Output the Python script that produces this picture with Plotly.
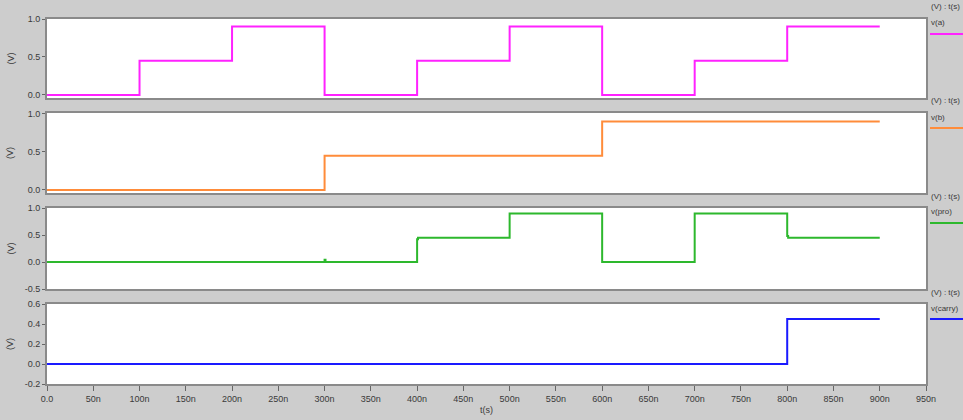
import plotly.graph_objects as go
from plotly.subplots import make_subplots

# Simulation waveforms (time in ns, voltage in V)
t_a = [0, 100, 200, 300, 400, 500, 600, 700, 800, 900]
v_a = [0, 0.45, 0.9, 0, 0.45, 0.9, 0, 0.45, 0.9, 0.9]

t_b = [0, 300, 600, 900]
v_b = [0, 0.45, 0.9, 0.9]

t_pro = [0, 300, 301, 400, 401, 500, 600, 700, 800, 801, 900]
v_pro = [0, 0.04, 0, 0.42, 0.45, 0.9, 0, 0.9, 0.48, 0.45, 0.45]

t_carry = [0, 800, 900]
v_carry = [0, 0.45, 0.45]

signal_names = ["v(a)", "v(b)", "v(pro)", "v(carry)"]
colors = ["#ff22ff", "#ff8c3a", "#2db82d", "#1a1aff"]
y_ranges = [[-0.04, 1.0], [-0.04, 1.013], [-0.5, 1.0], [-0.2, 0.6]]
y_ticks = [[0.0, 0.5, 1.0], [0.0, 0.5, 1.0], [-0.5, 0.0, 0.5, 1.0], [-0.2, 0.0, 0.2, 0.4, 0.6]]

x_tickvals = list(range(0, 951, 50))
x_ticktext = ["0.0"] + [f"{v}n" for v in x_tickvals[1:]]

W, H = 963, 420
ML, MR, MT, MB = 47, 37, 19, 36
PW, PH = W - ML - MR, H - MT - MB

# Panel extents in pixels (top, bottom)
panels_px = [(19, 98), (113, 193), (208, 289), (304, 384)]


def py(pix):
    return (H - MB - pix) / PH


def px(pix):
    return (pix - ML) / PW


fig = make_subplots(rows=4, cols=1, shared_xaxes=True)

series = [(t_a, v_a), (t_b, v_b), (t_pro, v_pro), (t_carry, v_carry)]
for i, (t, v) in enumerate(series):
    fig.add_trace(
        go.Scatter(x=t, y=v, mode="lines", line=dict(color=colors[i], width=2, shape="hv"),
                   name=signal_names[i], showlegend=False),
        row=i + 1, col=1,
    )

font = dict(family="Liberation Sans, Arial, sans-serif", size=9, color="#3a3a3a")
small = dict(family="Liberation Sans, Arial, sans-serif", size=8, color="#3a3a3a")

for i in range(4):
    top, bot = panels_px[i]
    yname = "yaxis" if i == 0 else f"yaxis{i + 1}"
    xname = "xaxis" if i == 0 else f"xaxis{i + 1}"
    fig.layout[yname].update(
        domain=[py(bot), py(top)], range=y_ranges[i], tickvals=y_ticks[i],
        ticktext=[f"{v:.1f}" for v in y_ticks[i]], showgrid=False, zeroline=False,
        showline=True, mirror=True, linecolor="#8a8a8a", linewidth=2,
        ticks="outside", ticklen=3, tickcolor="#666", tickfont=font,
    )
    fig.layout[xname].update(
        range=[0, 950], tickvals=x_tickvals, ticktext=x_ticktext, showgrid=False,
        zeroline=False, showline=True, mirror=True, linecolor="#8a8a8a", linewidth=2,
        ticks="outside" if i == 3 else "", ticklen=5, tickcolor="#666", tickfont=font,
        showticklabels=(i == 3),
    )
    mid = (top + bot) / 2
    fig.add_annotation(x=px(10), y=py(mid), xref="paper", yref="paper", text="(V)",
                       textangle=-90, showarrow=False, font=font,
                       xanchor="center", yanchor="middle")
    fig.add_annotation(x=px(929), y=py(top - 12), xref="paper", yref="paper", text="(V) : t(s)",
                       xanchor="left", yanchor="middle", showarrow=False, font=small)
    fig.add_annotation(x=px(929), y=py(top + 4), xref="paper", yref="paper", text=signal_names[i],
                       xanchor="left", yanchor="middle", showarrow=False, font=small)
    fig.add_shape(type="line", xref="paper", yref="paper", x0=px(930), x1=px(964),
                  y0=py(top + 15), y1=py(top + 15), line=dict(color=colors[i], width=2))

fig.add_annotation(x=px(486), y=py(410), xref="paper", yref="paper", text="t(s)",
                   xanchor="center", yanchor="middle", showarrow=False, font=font)

fig.update_layout(
    width=W, height=H, margin=dict(l=ML, r=MR, t=MT, b=MB),
    paper_bgcolor="#cdcdcd", plot_bgcolor="white", showlegend=False,
)

fig.write_html("out.html")
